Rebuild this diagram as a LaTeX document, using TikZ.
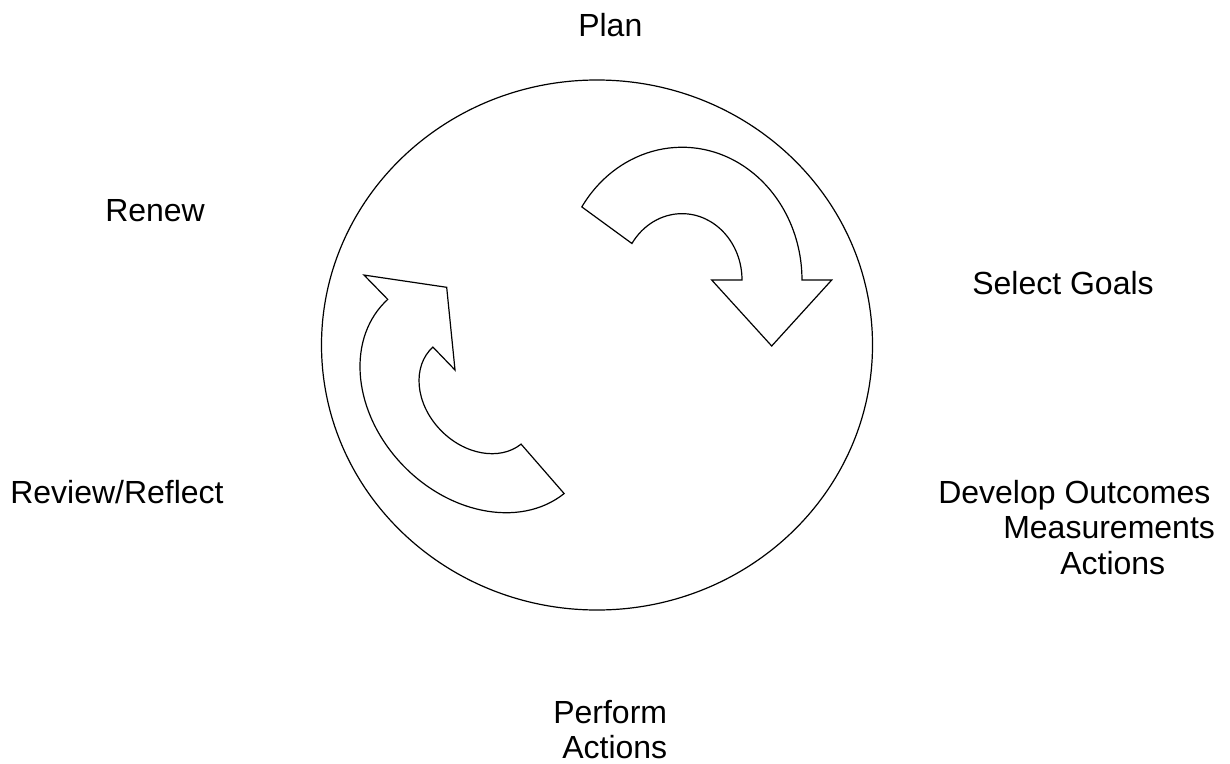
\documentclass[tikz,border=0pt]{standalone}
\usepackage{fontspec}
\setmainfont{Liberation Sans}
\usetikzlibrary{shapes.geometric}

\begin{document}
\begin{tikzpicture}[x=0.75pt,y=-0.75pt,
		phase/.style={font=\fontsize{24}{26.6}\selectfont,inner sep=0pt,anchor=base west,align=left},
		wheel/.style={ellipse,draw=black,line width=0.9pt,inner sep=0pt,minimum width=413.25pt,minimum height=397.5pt},
		turn/.style={draw=black,line width=0.9pt,line join=miter}]
		\useasboundingbox (0,0) rectangle (1230,763);
		
		\node[wheel]  (wheel)   at (597,345)   {};
		
		\node[phase]  (plan)    at (578,36.5)  {Plan};
		\node[phase]  (renew)   at (105,221)   {Renew};
		\node[phase]  (goals)   at (972,294.5) {Select Goals};
		\node[phase]  (review)  at (10,503)    {Review/Reflect};
		\node[phase]  (develop) at (938,574)   {Develop Outcomes\\\hspace*{48.75pt}Measurements\\\hspace*{91.5pt}Actions};
		\node[phase]  (perform) at (553,758.5) {Perform\\\hspace*{6.75pt}Actions};
		
		\draw[turn] (581.8,206.9) arc[start angle=213.4,end angle=360,x radius=120,y radius=132.7]
			-- (831.7,280) -- (771.7,346) -- (711.7,280) -- (742,280)
			arc[start angle=360,end angle=213.4,x radius=60,y radius=66.35] -- cycle;
		
		\begin{scope}[shift={(478,394.7)},rotate=-45]
		\draw[turn] (130.8,9) arc[start angle=5,end angle=182,x radius=131.3,y radius=103]
			-- (-165.2,-4) -- (-98.1,-53.8) -- (-33.7,-1.2) -- (-65.6,-1.8)
			arc[start angle=182,end angle=5,x radius=65.65,y radius=51.5] -- cycle;
		\end{scope}
\end{tikzpicture}
\end{document}
